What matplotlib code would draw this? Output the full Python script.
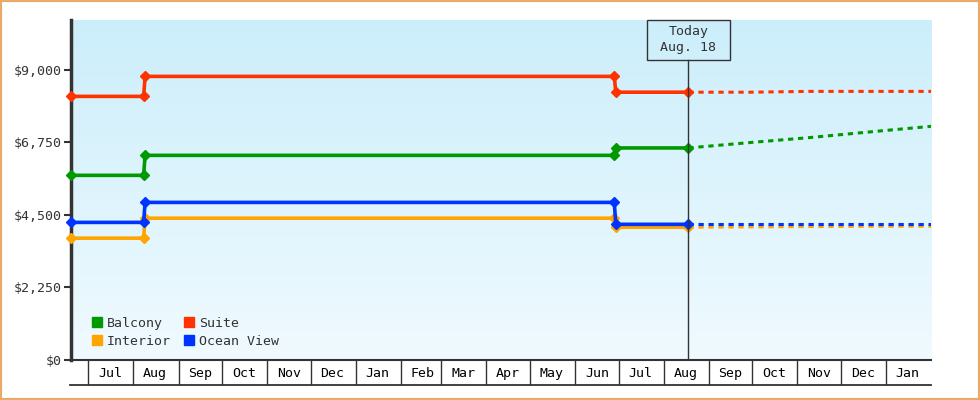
import numpy as np
import matplotlib
matplotlib.use("Agg")
import matplotlib.pyplot as plt
from matplotlib.lines import Line2D
from matplotlib.patches import Rectangle

plt.rcParams["font.family"] = ["DejaVu Sans Mono"]
plt.rcParams["lines.scale_dashes"] = False

# price history (solid) and forecast (dotted)
hist_dates = np.array(["2017-06-19", "2017-08-08", "2017-08-09",
                       "2018-06-28", "2018-06-29", "2018-08-18"], dtype="datetime64[D]")
balcony_hist = [5730, 5730, 6350, 6350, 6580, 6580]
suite_hist = [8180, 8180, 8800, 8800, 8310, 8310]
interior_hist = [3780, 3780, 4400, 4400, 4120, 4120]
ocean_hist = [4270, 4270, 4890, 4890, 4210, 4210]

fc_dates = np.array(["2018-08-18", "2018-09-30", "2018-11-09",
                     "2018-12-31", "2019-02-01"], dtype="datetime64[D]")
balcony_fc = [6580, 6750, 6900, 7120, 7250]
suite_fc = [8310, 8310, 8335, 8335, 8335]
interior_fc = [4120, 4130, 4140, 4150, 4150]
ocean_fc = [4210, 4210, 4210, 4210, 4210]

series = [
    ("Interior", "#ffa500", interior_hist, interior_fc),
    ("Ocean View", "#0033ff", ocean_hist, ocean_fc),
    ("Balcony", "#009900", balcony_hist, balcony_fc),
    ("Suite", "#ff3300", suite_hist, suite_fc),
]

today = np.datetime64("2018-08-18")
today_label = "Today\n Aug. 18 "

x_start = np.datetime64("2017-06-19")
x_end = np.datetime64("2019-02-01")
month_starts = np.arange(np.datetime64("2017-07"), np.datetime64("2019-02"),
                         dtype="datetime64[M]").astype("datetime64[D]")
month_labels = ["Jul", "Aug", "Sep", "Oct", "Nov", "Dec", "Jan", "Feb", "Mar", "Apr",
                "May", "Jun", "Jul", "Aug", "Sep", "Oct", "Nov", "Dec", "Jan"]

y_ticks = [0, 2250, 4500, 6750, 9000]
y_max = 10550

dark = "#333333"

fig = plt.figure(figsize=(9.8, 4), dpi=100)
ax = fig.add_axes([71 / 980, 40 / 400, 860 / 980, 340 / 400])

# gradient background
grad = np.linspace(0, 1, 256)[:, None]
top = np.array([204, 238, 251]) / 255
bot = np.array([240, 250, 255]) / 255
img = top[None, None, :] * (1 - grad[..., None]) + bot[None, None, :] * grad[..., None]
ax.imshow(img, extent=[0, 1, 0, 1], transform=ax.transAxes, aspect="auto", zorder=0)

for name, color, hist, fc in series:
    ax.plot(fc_dates, fc, color=color, lw=2.2, dashes=(3.8, 3.4),
            dash_capstyle="butt", zorder=3)
    ax.plot(hist_dates, hist, color=color, lw=2.6, marker="D", ms=5.5,
            zorder=4, solid_joinstyle="round", clip_on=False)

ax.set_xlim(x_start, x_end)
ax.set_ylim(0, y_max)

# today marker
ax.axvline(today, ymax=(300 / 340), color=dark, lw=1, zorder=5)
ax.text(today, 1.0 - 20 / 340, today_label, ha="center", va="center",
        transform=ax.get_xaxis_transform(), fontsize=9.5, color=dark,
        linespacing=1.3, zorder=6,
        bbox=dict(boxstyle="square,pad=0.42", fc="none", ec=dark, lw=1))

# y axis
ax.set_yticks(y_ticks)
ax.set_yticklabels(["${:,}".format(v) for v in y_ticks])
ax.tick_params(axis="y", length=5, width=1.5, color=dark, labelcolor=dark,
               labelsize=9.5, pad=2)

# x axis: month cells
mid = month_starts + 15
ax.set_xticks(month_starts)
ax.set_xticklabels([])
ax.tick_params(axis="x", which="major", length=18, width=1, color=dark)
ax.set_xticks(mid, minor=True)
ax.set_xticklabels(month_labels, minor=True)
ax.tick_params(axis="x", which="minor", length=0, labelsize=9.5, labelcolor="black", pad=5)

for s in ["top", "right"]:
    ax.spines[s].set_visible(False)
ax.spines["left"].set_linewidth(2.5)
ax.spines["left"].set_color(dark)
ax.spines["bottom"].set_linewidth(1.5)
ax.spines["bottom"].set_color(dark)

fig.add_artist(Line2D([70 / 980, 931 / 980], [15 / 400, 15 / 400], color=dark, lw=1.3))

# legend
handles = []
for name, color in [("Balcony", "#009900"), ("Interior", "#ffa500"),
                    ("Suite", "#ff3300"), ("Ocean View", "#0033ff")]:
    handles.append(Line2D([], [], marker="s", ms=7.5, ls="none", color=color, label=name))
ax.legend(handles=handles, ncol=2, loc="lower left", bbox_to_anchor=(0.024, 0.035),
          frameon=False, fontsize=9.5, handlelength=0.8, handletextpad=0.35,
          columnspacing=1.0, labelspacing=0.4, borderpad=0, borderaxespad=0,
          labelcolor=dark)

# outer border
fig.add_artist(Rectangle((0, 0), 1, 1, transform=fig.transFigure, fill=False,
                         ec="#e8aa66", lw=3))

fig.savefig("out.png", dpi=100)
